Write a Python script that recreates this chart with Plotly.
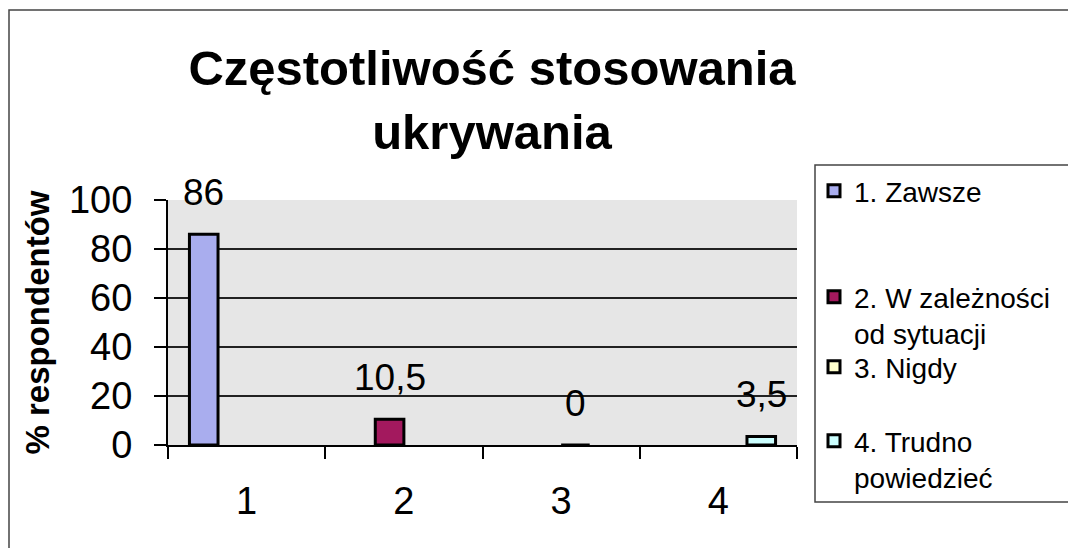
import plotly.graph_objects as go

# ---- data ----
categories = ["1", "2", "3", "4"]
series_names = ["1. Zawsze", "2. W zależności<br>od sytuacji", "3. Nigdy", "4. Trudno<br>powiedzieć"]
values = [86, 10.5, 0, 3.5]
value_labels = ["86", "10,5", "0", "3,5"]
y_ticks = [0, 20, 40, 60, 80, 100]

# ---- style ----
colors = ["#A9ADEE", "#A3195E", "#FFFFCC", "#CCFFFF"]
FONT = "Arial, 'Liberation Sans', sans-serif"
W, H = 1068, 548
L, R, T, B = 168, 271, 200, 103
PW, PH = W - L - R, H - T - B
BARGAP = 1.5 / 5.5


def px_x(px):
    return (px - L) / PW


def px_y(py):
    return (H - B - py) / PH


fig = go.Figure()
legend_ids = ["legend", "legend2", "legend3", "legend4"]
for i, cat in enumerate(categories):
    # each series holds its value only in its own category (Excel-style clustered layout)
    ys = [values[i] if j == i else None for j in range(len(categories))]
    fig.add_trace(go.Bar(
        x=categories, y=ys, name=series_names[i],
        marker=dict(color=colors[i], line=dict(color="black", width=3)),
        legend=legend_ids[i], hoverinfo="skip",
    ))

n = len(categories)
for i, cat in enumerate(categories):
    fig.add_annotation(
        x=i + (i - (n - 1) / 2) * (1 - BARGAP) / n, y=values[i], xref="x", yref="y",
        text=value_labels[i], showarrow=False, yanchor="middle", yshift=42,
        font=dict(family=FONT, size=37, color="black"),
    )

legend_centers_px = [191, 315, 367, 459]
legend_layout = {}
for i, lid in enumerate(legend_ids):
    legend_layout[lid] = dict(
        x=px_x(814), y=px_y(legend_centers_px[i]), xanchor="left", yanchor="middle",
        font=dict(family=FONT, size=28, color="black"), bgcolor="rgba(0,0,0,0)",
        borderwidth=0, valign="top",
    )

fig.update_layout(
    width=W, height=H,
    margin=dict(l=L, r=R, t=T, b=B, autoexpand=False),
    paper_bgcolor="white", plot_bgcolor="#E6E6E6",
    barmode="group", bargap=BARGAP, bargroupgap=0,
    showlegend=True,
    title=dict(
        text="Częstotliwość stosowania<br>ukrywania",
        x=492 / W, xref="container", xanchor="center",
        y=1 - 85 / H, yref="container", yanchor="top",
        font=dict(family=FONT, size=49, color="black", weight="bold"),
    ),
    xaxis=dict(
        type="category", categoryorder="array", categoryarray=categories,
        showline=True, linecolor="black", linewidth=2,
        ticks="outside", tickson="boundaries", ticklen=12, tickcolor="black", tickwidth=1.5,
        ticklabelstandoff=21, tickfont=dict(family=FONT, size=38, color="black"),
        showgrid=False,
    ),
    yaxis=dict(
        range=[0, 100], tickvals=y_ticks,
        showline=True, linecolor="black", linewidth=2,
        ticks="outside", ticklen=12, tickcolor="black", tickwidth=1.5,
        ticklabelstandoff=14, tickfont=dict(family=FONT, size=38, color="black"),
        showgrid=True, gridcolor="#222222", gridwidth=1.5, zeroline=False,
        title=dict(text="% respondentów", standoff=9,
                   font=dict(family=FONT, size=33, color="black", weight="bold")),
    ),
    shapes=[
        dict(type="rect", xref="paper", yref="paper",
             x0=px_x(9), x1=px_x(1100), y0=px_y(10), y1=px_y(600),
             line=dict(color="#444444", width=1.5), fillcolor="rgba(0,0,0,0)", layer="below"),
        dict(type="rect", xref="paper", yref="paper",
             x0=px_x(815), x1=px_x(1100), y0=px_y(165), y1=px_y(502),
             line=dict(color="#444444", width=1.5), fillcolor="rgba(0,0,0,0)", layer="below"),
    ],
    **legend_layout,
)

fig.write_html("out.html", config={"displayModeBar": False},
               post_script="document.body.style.margin='0';")
